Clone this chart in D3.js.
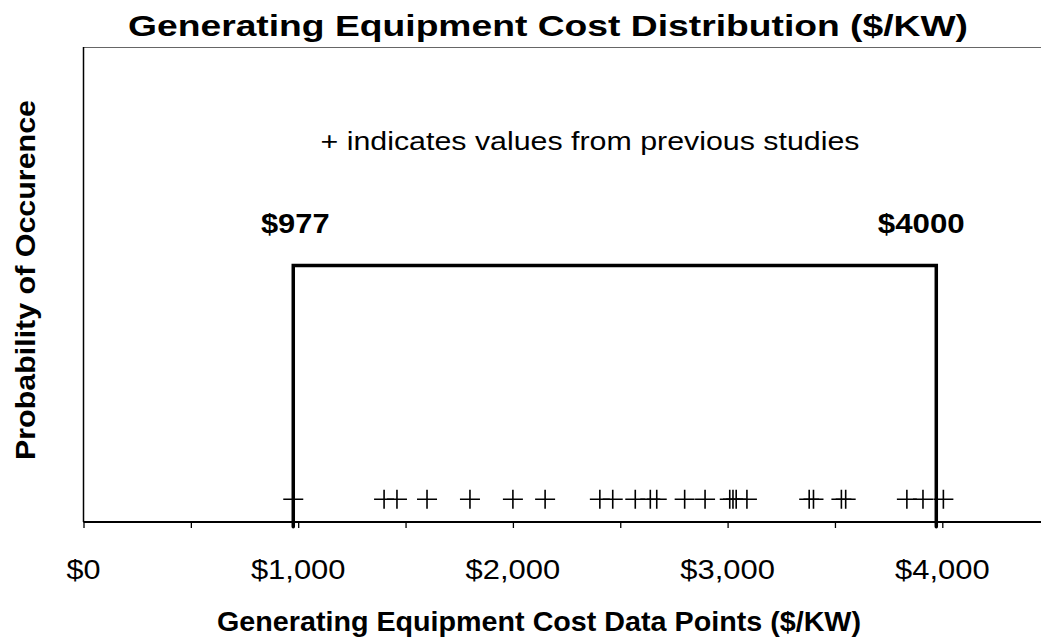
<!DOCTYPE html>
<html>
<head>
<meta charset="utf-8">
<script src="https://cdn.jsdelivr.net/npm/d3@7"></script>
<style>
  html, body { margin: 0; padding: 0; background: #fff; }
  svg { display: block; font-family: "Liberation Sans", Arial, sans-serif; }
</style>
</head>
<body>
<svg id="chart" width="1041" height="641"></svg>
<script>
// ── Data ──────────────────────────────────────────────────────────────────
const uniformBounds = [977, 3972];          // where the two uprights sit
const boundLabels = ['$977', '$4000'];
const pdfHeight = 0.54;                      // normalised density level
const markerLevel = 0.048;                   // height of the "+" row
const studyValues = [
  977, 1400, 1460, 1600, 1800, 2000, 2150, 2405, 2465, 2570, 2640, 2670,
  2800, 2895, 3010, 3025, 3040, 3090, 3380, 3400, 3530, 3550, 3835, 3910, 4005
];
const tickValues = [0, 500, 1000, 1500, 2000, 2500, 3000, 3500, 4000, 4500];
const tickLabelValues = [0, 1000, 2000, 3000, 4000];

(function () {
  const svg = d3.select('#chart');
  const left = 83.5, top = 47, bottom = 522;

  const x = d3.scaleLinear().domain([0, 4500]).range([left, left + 4500 * 0.21470]);
  const y = d3.scaleLinear().domain([0, 1]).range([bottom, top]);

  // ── Frame ──
  svg.append('line')
    .attr('x1', left).attr('x2', 1041).attr('y1', top + 0.5).attr('y2', top + 0.5)
    .attr('stroke', '#666').attr('stroke-width', 1);
  svg.append('line')
    .attr('x1', left).attr('x2', left).attr('y1', top).attr('y2', bottom)
    .attr('stroke', '#000').attr('stroke-width', 1.5);

  // ── X axis ──
  const xAxis = d3.axisBottom(x)
    .tickValues(tickValues)
    .tickSize(6)
    .tickFormat('');
  const gx = svg.append('g')
    .attr('transform', `translate(0,${bottom})`)
    .call(xAxis);
  gx.select('.domain').remove();
  gx.selectAll('.tick line').attr('stroke', '#000').attr('stroke-width', 1.3);
  svg.append('line')
    .attr('x1', left).attr('x2', 1041).attr('y1', bottom).attr('y2', bottom)
    .attr('stroke', '#000').attr('stroke-width', 2.2);

  const fmt = d3.format('$,.0f');
  svg.append('g').selectAll('text')
    .data(tickLabelValues)
    .join('text')
      .attr('x', function (d) { return x(d); })
      .attr('y', 579)
      .attr('text-anchor', 'middle')
      .attr('font-size', 27)
      .attr('textLength', function (d) { return d === 0 ? 34 : 94.6; })
      .attr('lengthAdjust', 'spacingAndGlyphs')
      .text(function (d) { return fmt(d); });

  // ── Uniform distribution outline ──
  const pts = [
    [uniformBounds[0], -0.01], [uniformBounds[0], pdfHeight],
    [uniformBounds[1], pdfHeight], [uniformBounds[1], -0.01]
  ];
  svg.append('path')
    .datum(pts)
    .attr('fill', 'none')
    .attr('stroke', '#000')
    .attr('stroke-width', 3.5)
    .attr('stroke-linejoin', 'miter')
    .attr('stroke-linecap', 'round')
    .attr('d', d3.line().x(function (d) { return x(d[0]); }).y(function (d) { return y(d[1]); }));

  // ── Study markers ──
  const cross = d3.symbol().type(d3.symbolCross);
  svg.append('g').selectAll('path')
    .data(studyValues)
    .join('path')
      .attr('transform', function (d) { return `translate(${x(d)},${y(markerLevel)})`; })
      .attr('d', 'M-10,0H10M0,-9.5V9.5')
      .attr('stroke', '#000')
      .attr('stroke-width', 1.6)
      .attr('fill', 'none');

  // ── Bound labels ──
  svg.append('text')
    .attr('x', x(uniformBounds[0]) + 2).attr('y', 233)
    .attr('text-anchor', 'middle')
    .attr('font-size', 27).attr('font-weight', 'bold')
    .attr('textLength', 68.6).attr('lengthAdjust', 'spacingAndGlyphs')
    .text(boundLabels[0]);
  svg.append('text')
    .attr('x', x(uniformBounds[1]) - 15).attr('y', 233)
    .attr('text-anchor', 'middle')
    .attr('font-size', 27).attr('font-weight', 'bold')
    .attr('textLength', 87).attr('lengthAdjust', 'spacingAndGlyphs')
    .text(boundLabels[1]);

  // ── Texts ──
  svg.append('text')
    .attr('x', 548).attr('y', 36)
    .attr('text-anchor', 'middle')
    .attr('font-size', 30).attr('font-weight', 'bold')
    .attr('textLength', 840).attr('lengthAdjust', 'spacingAndGlyphs')
    .text('Generating Equipment Cost Distribution ($/KW)');

  svg.append('text')
    .attr('x', 590).attr('y', 150)
    .attr('text-anchor', 'middle')
    .attr('font-size', 26)
    .attr('textLength', 539).attr('lengthAdjust', 'spacingAndGlyphs')
    .text('+ indicates values from previous studies');

  svg.append('text')
    .attr('x', 539).attr('y', 631)
    .attr('text-anchor', 'middle')
    .attr('font-size', 27).attr('font-weight', 'bold')
    .attr('textLength', 644).attr('lengthAdjust', 'spacingAndGlyphs')
    .text('Generating Equipment Cost Data Points ($/KW)');

  svg.append('text')
    .attr('transform', 'translate(35,280) rotate(-90)')
    .attr('text-anchor', 'middle')
    .attr('font-size', 28).attr('font-weight', 'bold')
    .attr('textLength', 360).attr('lengthAdjust', 'spacingAndGlyphs')
    .text('Probability of Occurence');
})();
</script>
</body>
</html>
